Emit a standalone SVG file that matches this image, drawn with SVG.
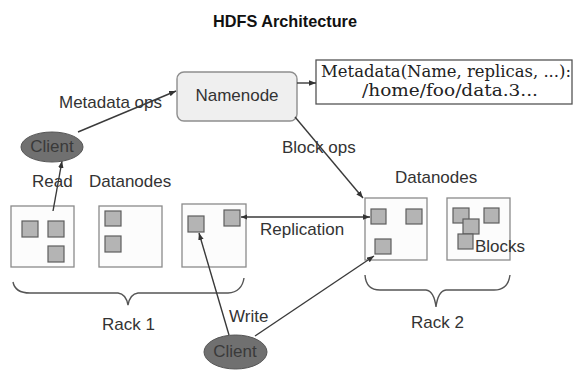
<svg xmlns="http://www.w3.org/2000/svg" width="575" height="373" viewBox="0 0 575 373">
<style>
.lbl{font-family:"Liberation Sans",Arial,sans-serif;font-size:17px;fill:#333}
.title{font-family:"Liberation Sans",Arial,sans-serif;font-size:17px;font-weight:bold;fill:#111}
.serif{font-family:"DejaVu Serif","Liberation Serif",serif;font-size:16px;fill:#222}
.dn{fill:#fcfcfc;stroke:#8a8a8a;stroke-width:1.3}
.blk{fill:#b4b4b4;stroke:#5e5e5e;stroke-width:1.2}
.cl{fill:#707070;stroke:#555;stroke-width:1}
.cltxt{font-family:"Liberation Sans",Arial,sans-serif;font-size:17px;fill:#3a3a3a;text-anchor:middle}
.con{stroke:#3a3a3a;stroke-width:1.4;fill:none}
.brace{stroke:#555;stroke-width:1.4;fill:none}
</style>
<defs>
<marker id="ah" viewBox="0 0 10 10" refX="10" refY="5" markerWidth="7" markerHeight="7" orient="auto" markerUnits="userSpaceOnUse">
<path d="M0,1 L10,5 L0,9 z" fill="#333"/>
</marker>
<marker id="as" viewBox="0 0 10 10" refX="0" refY="5" markerWidth="6" markerHeight="6" orient="auto" markerUnits="userSpaceOnUse">
<path d="M10,1 L0,5 L10,9 z" fill="#333"/>
</marker>
</defs>
<rect width="575" height="373" fill="#ffffff"/>
<text class="title" x="213" y="27" textLength="144" lengthAdjust="spacingAndGlyphs">HDFS Architecture</text>

<g id="namenode">
<rect x="177" y="72" width="120" height="49" rx="7" fill="#efefef" stroke="#8e8e8e" stroke-width="1.4"/>
<text class="lbl" x="237" y="101" text-anchor="middle">Namenode</text>
</g>

<g id="metadata">
<rect x="316" y="60" width="256" height="44" fill="#ffffff" stroke="#555" stroke-width="1.3"/>
<text class="serif" x="321" y="77" textLength="250" lengthAdjust="spacingAndGlyphs">Metadata(Name, replicas, ...):</text>
<text class="serif" x="362" y="96" textLength="176" lengthAdjust="spacingAndGlyphs">/home/foo/data.3...</text>
</g>

<g id="labels">
<text class="lbl" x="59" y="108" textLength="103" lengthAdjust="spacingAndGlyphs">Metadata ops</text>
<text class="lbl" x="282" y="153">Block ops</text>
<text class="lbl" x="32" y="187">Read</text>
<text class="lbl" x="89" y="187">Datanodes</text>
<text class="lbl" x="395" y="183">Datanodes</text>
<text class="lbl" x="260" y="235">Replication</text>
<text class="lbl" x="229" y="322">Write</text>
<text class="lbl" x="102" y="330">Rack 1</text>
<text class="lbl" x="411" y="328">Rack 2</text>
</g>

<g id="datanode-r1-1">
<rect class="dn" x="11" y="206" width="63" height="61"/>
<rect class="blk" x="22" y="221" width="16" height="16"/>
<rect class="blk" x="48" y="221" width="16" height="16"/>
<rect class="blk" x="48" y="246" width="16" height="16"/>
</g>

<g id="datanode-r1-2">
<rect class="dn" x="99" y="206" width="63" height="61"/>
<rect class="blk" x="105" y="211" width="16" height="15"/>
<rect class="blk" x="105" y="236" width="16" height="16"/>
</g>

<g id="datanode-r1-3">
<rect class="dn" x="182" y="204" width="64" height="63"/>
<rect class="blk" x="188" y="216" width="16" height="16"/>
<rect class="blk" x="224" y="210" width="16" height="16"/>
</g>

<g id="datanode-r2-1">
<rect class="dn" x="365" y="198" width="62" height="62"/>
<rect class="blk" x="371" y="209" width="15" height="15"/>
<rect class="blk" x="406" y="209" width="16" height="15"/>
<rect class="blk" x="375" y="239" width="16" height="15"/>
</g>

<g id="datanode-r2-2">
<rect class="dn" x="447" y="198" width="63" height="62"/>
<rect class="blk" x="453" y="208" width="16" height="15"/>
<rect class="blk" x="484" y="208" width="15" height="15"/>
<rect class="blk" x="463" y="219" width="16" height="15"/>
<rect class="blk" x="458" y="234" width="15" height="15"/>
<text class="lbl" x="475" y="252">Blocks</text>
</g>

<g id="rack1">
<path class="brace" d="M13,282 Q15,293 30,293 L118,293 Q126,294 128,305 Q130,294 138,293 L228,293 Q242,292 244,278"/>
</g>

<g id="rack2">
<path class="brace" d="M365,275 Q366,290 380,290 L426,290 Q434,291 436,307 Q438,291 446,290 L494,290 Q508,290 510,275"/>
</g>

<g id="connectors">
<line class="con" x1="78" y1="132" x2="176" y2="91" marker-end="url(#ah)"/>
<line class="con" x1="297" y1="83" x2="316" y2="83" marker-end="url(#ah)"/>
<line class="con" x1="295" y1="117" x2="363" y2="198" marker-end="url(#ah)"/>
<line class="con" x1="53" y1="211" x2="62" y2="161" marker-end="url(#ah)"/>
<line class="con" x1="241" y1="217" x2="370" y2="217" marker-start="url(#as)" marker-end="url(#ah)"/>
<line class="con" x1="229" y1="335" x2="199" y2="233" marker-end="url(#ah)"/>
<line class="con" x1="255" y1="336" x2="374" y2="256" marker-end="url(#ah)"/>
</g>

<g id="client-top">
<ellipse class="cl" cx="52" cy="147" rx="31" ry="15"/>
<text class="cltxt" x="52" y="152">Client</text>
</g>

<g id="client-bottom">
<ellipse class="cl" cx="235.5" cy="352" rx="31.5" ry="17"/>
<text class="cltxt" x="235" y="357">Client</text>
</g>
</svg>
